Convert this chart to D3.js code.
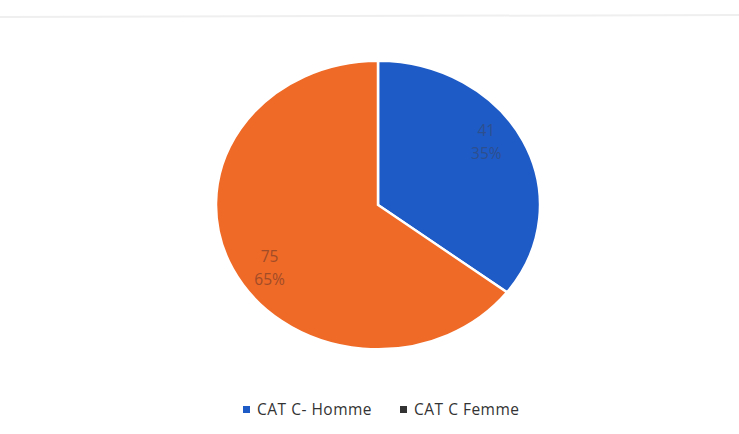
<!DOCTYPE html>
<html><head><meta charset="utf-8">
<script src="https://cdn.jsdelivr.net/npm/d3@7"></script>
<style>body{margin:0;background:#fff}svg{display:block}</style>
</head><body>
<svg id="c" width="739" height="434"></svg>
<script>
const categories = ["CAT C- Homme", "CAT C Femme"];
const values = [41, 75];
const percents = ["35%", "65%"];
const sliceColors = ["#1f5bc6", "#ef6a27"];
const labelColors = ["#2d4f8e", "#a14c28"];
const legendColors = ["#1f5bc6", "#333333"];

const svg = d3.select("#c");
const W = 739, H = 434;
svg.append("line").attr("x1", 0).attr("x2", W).attr("y1", 17).attr("y2", 15)
  .attr("stroke", "#efefef").attr("stroke-width", 2);

const cx = 378, cy = 205, r = 162, sy = 0.89;
const g = svg.append("g").attr("transform", `translate(${cx},${cy}) scale(1,${sy})`);
const pie = d3.pie().sort(null).value(d => d);
const arcs = pie(values);
const arc = d3.arc().innerRadius(0).outerRadius(r);
g.selectAll("path").data(arcs).join("path")
  .attr("d", arc).attr("fill", (d, i) => sliceColors[i])
  .attr("stroke", "#fff").attr("stroke-width", 2.5);

const labelR = r * 0.8, shift = -0.12;
arcs.forEach((d, i) => {
  const a = (d.startAngle + d.endAngle) / 2 + shift;
  const x = cx + labelR * Math.sin(a), y = cy - labelR * Math.cos(a) * sy;
  const t = svg.append("text").attr("text-anchor", "middle")
    .attr("font-family", "Open Sans, sans-serif")
    .attr("font-size", 15.5).attr("fill", labelColors[i]);
  t.append("tspan").attr("x", x).attr("y", y - 6).text(values[i]);
  t.append("tspan").attr("x", x).attr("y", y + 17).text(percents[i]);
});

const leg = svg.append("g").attr("font-family", "Open Sans, sans-serif")
  .attr("font-size", 15.5).attr("letter-spacing", 0.5).attr("fill", "#333");
const lx = [243, 400];
categories.forEach((c, i) => {
  leg.append("rect").attr("x", lx[i]).attr("y", 406).attr("width", 7).attr("height", 7).attr("fill", legendColors[i]);
  leg.append("text").attr("x", lx[i] + 14).attr("y", 415).text(c);
});
</script>
</body></html>
